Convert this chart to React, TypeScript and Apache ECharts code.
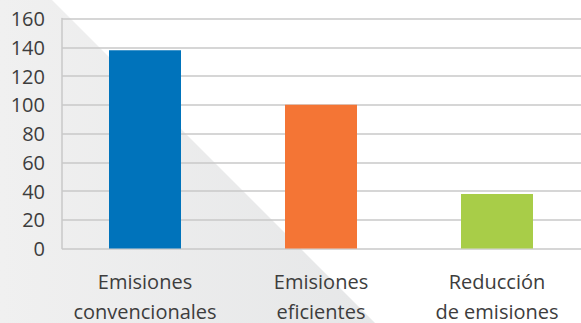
import React, { useEffect, useRef } from "react";
import * as echarts from "echarts";

const categories = ["Emisiones\nconvencionales", "Emisiones\neficientes", "Reducción\nde emisiones"];
const values = [138, 100, 38];
const barColors = ["#0073bb", "#f47535", "#a8cd48"];
const yTicks = { min: 0, max: 160, interval: 20 };

const FONT = "'Open Sans', 'Noto Sans', sans-serif";
const TEXT = "#3d3d3d";
const GRID_LINE = "#c8c8c8";

export default function App() {
  const ref = useRef<HTMLDivElement | null>(null);

  useEffect(() => {
    if (!ref.current) return;
    const chart = echarts.init(ref.current, undefined, { renderer: "svg" });

    chart.setOption({
      animation: false,
      backgroundColor: "#ffffff",
      graphic: [
        {
          type: "polygon",
          z: -10,
          silent: true,
          shape: { points: [[0, 0], [52, 0], [375, 323], [0, 323]] },
          style: {
            fill: new echarts.graphic.LinearGradient(0, 0, 1, 0, [
              { offset: 0, color: "#f0f0f0" },
              { offset: 1, color: "#e6e7e8" },
            ]),
          },
        },
      ],
      grid: [
        // value axis, gridlines and axis line
        { left: 62, right: 0, top: 18.5, bottom: 74.5, outerBoundsMode: "none", containLabel: false },
        // bars and category labels
        { left: 57, right: -4, top: 18.5, bottom: 74.5, outerBoundsMode: "none", containLabel: false },
      ],
      xAxis: [
        { type: "category", gridIndex: 0, data: categories, show: false },
        {
          type: "category",
          gridIndex: 1,
          data: categories,
          axisLine: { show: false },
          axisTick: { show: false },
          axisLabel: {
            color: TEXT,
            fontFamily: FONT,
            fontSize: 20,
            lineHeight: 30,
            margin: 18,
            interval: 0,
          },
        },
      ],
      yAxis: [
        {
          type: "value",
          gridIndex: 0,
          min: yTicks.min,
          max: yTicks.max,
          interval: yTicks.interval,
          axisLine: { show: true, lineStyle: { color: GRID_LINE, width: 1.5 } },
          axisTick: { show: false },
          axisLabel: {
            color: TEXT,
            fontFamily: FONT,
            fontSize: 20,
            margin: 17,
          },
          splitLine: { show: true, lineStyle: { color: GRID_LINE, width: 1.5 } },
        },
        {
          type: "value",
          gridIndex: 1,
          min: yTicks.min,
          max: yTicks.max,
          interval: yTicks.interval,
          show: false,
          splitLine: { show: false },
        },
      ],
      series: [
        {
          type: "bar",
          xAxisIndex: 1,
          yAxisIndex: 1,
          barWidth: 72,
          data: values.map((v, i) => ({ value: v, itemStyle: { color: barColors[i] } })),
        },
      ],
    });

    return () => chart.dispose();
  }, []);

  return (
    <div
      ref={ref}
      style={{ position: "absolute", left: 0, top: 0, width: 581, height: 323 }}
    />
  );
}
